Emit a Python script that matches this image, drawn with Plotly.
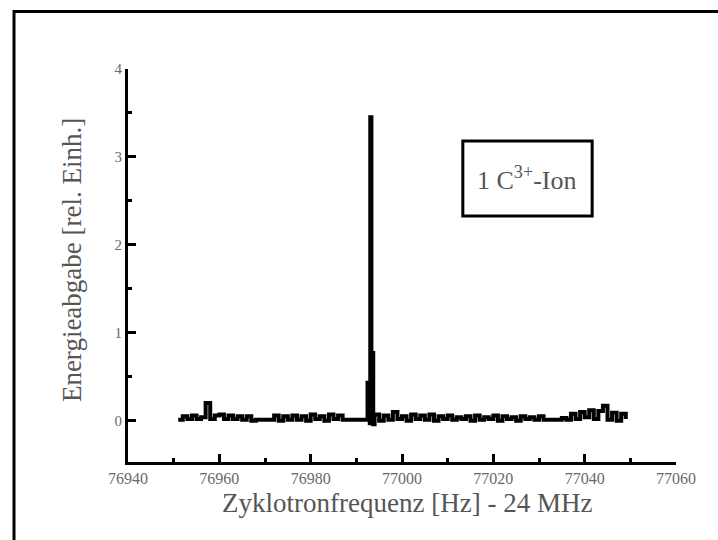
import plotly.graph_objects as go

# ---- data ----
freq_left = [76951, 76952, 76953, 76954, 76955, 76956, 76957, 76958, 76959, 76960,
             76961, 76962, 76963, 76964, 76965, 76966, 76967, 76968, 76969, 76970,
             76971, 76972, 76973, 76974, 76975, 76976, 76977, 76978, 76979, 76980,
             76981, 76982, 76983, 76984, 76985, 76986, 76987, 76988, 76989, 76990,
             76991, 76992]
energy_left = [0.01, 0.05, 0.02, 0.06, 0.02, 0.04, 0.20, 0.02, 0.06, 0.07,
               0.02, 0.06, 0.02, 0.05, 0.01, 0.05, 0.00, 0.01, 0.01, 0.01,
               0.01, 0.06, 0.00, 0.05, 0.01, 0.06, 0.01, 0.05, 0.00, 0.07,
               0.02, 0.05, 0.00, 0.07, 0.02, 0.06, 0.01, 0.01, 0.01, 0.01,
               0.01, 0.01]

freq_peak = [76992.45, 76992.95, 76993.05, 76993.3, 76993.7]
energy_peak = [0.43, -0.03, 3.45, 0.77, -0.04]

freq_right = [76994, 76995, 76996, 76997, 76998, 76999, 77000, 77001, 77002, 77003,
              77004, 77005, 77006, 77007, 77008, 77009, 77010, 77011, 77012, 77013,
              77014, 77015, 77016, 77017, 77018, 77019, 77020, 77021, 77022, 77023,
              77024, 77025, 77026, 77027, 77028, 77029, 77030, 77031, 77032, 77033,
              77034, 77035, 77036, 77037, 77038, 77039, 77040, 77041, 77042, 77043,
              77044, 77045, 77046, 77047, 77048, 77049]
energy_right = [0.07, 0.00, 0.06, 0.01, 0.10, 0.02, 0.05, 0.00, 0.07, 0.02,
                0.06, 0.01, 0.07, 0.00, 0.05, 0.02, 0.06, 0.01, 0.04, 0.02,
                0.05, 0.00, 0.06, 0.01, 0.04, 0.02, 0.06, 0.00, 0.05, 0.02,
                0.04, 0.00, 0.05, 0.02, 0.04, 0.01, 0.05, 0.01, 0.01, 0.01,
                0.01, 0.03, 0.01, 0.08, 0.02, 0.10, 0.04, 0.12, 0.02, 0.11,
                0.17, 0.01, 0.09, 0.00, 0.08, 0.02]

x_tickvals = [76940, 76960, 76980, 77000, 77020, 77040, 77060]
y_tickvals = [0, 1, 2, 3, 4]

x_title = "Zyklotronfrequenz [Hz] - 24 MHz"
y_title = "Energieabgabe [rel. Einh.]"
box_text = "1 C<sup>3+</sup>-Ion"

freq = freq_left + freq_peak + freq_right
energy = energy_left + energy_peak + energy_right

SERIF = "Liberation Serif, Times New Roman, serif"

fig = go.Figure()
fig.add_trace(go.Scatter(
    x=freq, y=energy, mode="lines",
    line=dict(color="black", width=4, shape="hv"),
    showlegend=False, hoverinfo="skip",
))

fig.update_layout(
    width=718, height=540,
    margin=dict(l=128, r=42, t=69, b=78),
    paper_bgcolor="white", plot_bgcolor="white",
    font=dict(family=SERIF, color="#555555"),
    xaxis=dict(
        range=[76940, 77060], tickvals=x_tickvals, tickformat="d",
        showline=True, linecolor="black", linewidth=3,
        ticks="inside", ticklen=8, tickwidth=2.5, tickcolor="black",
        minor=dict(dtick=10, tick0=76940, ticks="inside", ticklen=4,
                   tickwidth=2.5, tickcolor="black", showgrid=False),
        showgrid=False, zeroline=False, mirror=False,
        tickfont=dict(family=SERIF, size=16, color="#6a6a6a"),
    ),
    yaxis=dict(
        range=[-0.47, 4], tickvals=y_tickvals,
        showline=True, linecolor="black", linewidth=3,
        ticks="inside", ticklen=8, tickwidth=2.5, tickcolor="black",
        minor=dict(dtick=0.5, tick0=0, ticks="inside", ticklen=4,
                   tickwidth=2.5, tickcolor="black", showgrid=False),
        showgrid=False, zeroline=False, mirror=False,
        tickfont=dict(family=SERIF, size=15, color="#6a6a6a"),
    ),
    shapes=[
        dict(type="rect", xref="paper", yref="paper",
             x0=-0.208, x1=1.1, y0=-0.3, y1=1.146,
             line=dict(color="black", width=3), fillcolor="rgba(0,0,0,0)"),
        dict(type="rect", xref="paper", yref="paper",
             x0=0.611, x1=0.847, y0=0.626, y1=0.817,
             line=dict(color="black", width=3), fillcolor="rgba(0,0,0,0)"),
    ],
    annotations=[
        dict(text=box_text, xref="paper", yref="paper", x=0.729, y=0.722,
             xanchor="center", yanchor="middle", showarrow=False,
             font=dict(family=SERIF, size=26, color="#555555")),
        dict(text=x_title, xref="paper", yref="paper", x=0.509, y=-0.104,
             xanchor="center", yanchor="middle", showarrow=False,
             font=dict(family=SERIF, size=27, color="#555555")),
        dict(text=y_title, xref="paper", yref="paper", x=-0.102, y=0.514,
             xanchor="center", yanchor="middle", showarrow=False, textangle=-90,
             font=dict(family=SERIF, size=27, color="#555555")),
    ],
)

fig.write_html("out.html")
